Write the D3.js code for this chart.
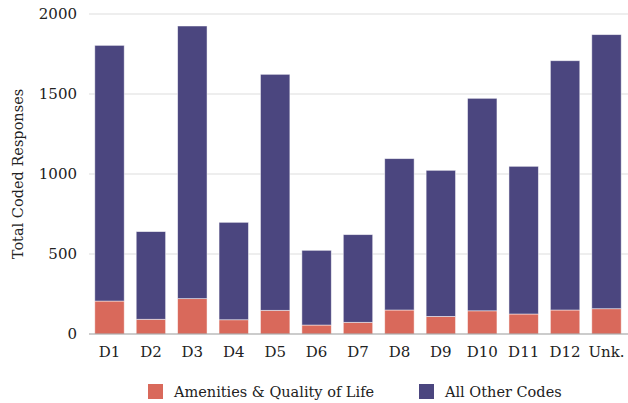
<!DOCTYPE html>
<html>
<head>
<meta charset="utf-8">
<script src="https://cdn.jsdelivr.net/npm/d3@7"></script>
<style>
  body { margin: 0; background: #fff; }
  svg text { font-family: "DejaVu Serif", "Liberation Serif", serif; fill: #222; }
</style>
</head>
<body>
<svg id="chart"></svg>
<script>
const districts = ["D1", "D2", "D3", "D4", "D5", "D6", "D7", "D8", "D9", "D10", "D11", "D12", "Unk."];
const amenities = [206, 92, 221, 89, 148, 56, 73, 150, 110, 145, 125, 150, 158];
const totals = [1804, 640, 1925, 698, 1623, 523, 621, 1096, 1023, 1473, 1048, 1708, 1871];
const otherCodes = totals.map((t, i) => t - amenities[i]);
const seriesNames = ["Amenities & Quality of Life", "All Other Codes"];
const seriesColors = ["#d9695b", "#4b467f"];
const yTicks = [0, 500, 1000, 1500, 2000];

const width = 628, height = 403;
const margin = {top: 14, right: 1, bottom: 69, left: 89};

const svg = d3.select("#chart")
    .attr("width", width)
    .attr("height", height);

const rows = districts.map((d, i) => ({district: d, a: amenities[i], o: otherCodes[i]}));
const stacked = d3.stack().keys(["a", "o"])(rows);

const x = d3.scaleBand()
    .domain(districts)
    .range([margin.left, width - margin.right])
    .paddingInner(0.29)
    .paddingOuter(0.14);

const y = d3.scaleLinear()
    .domain([0, 2000])
    .range([height - margin.bottom, margin.top]);

// gridlines
svg.append("g")
  .selectAll("line")
  .data(yTicks.slice(1))
  .enter().append("line")
    .attr("x1", margin.left)
    .attr("x2", width)
    .attr("y1", d => y(d))
    .attr("y2", d => y(d))
    .attr("stroke", "#dddddd")
    .attr("stroke-width", 1);

// y axis labels
const yAxis = d3.axisLeft(y).tickValues(yTicks).tickFormat(d3.format("d")).tickSize(0).tickPadding(12);
svg.append("g")
    .attr("transform", `translate(${margin.left},0)`)
    .call(yAxis)
    .call(g => g.select(".domain").remove())
    .selectAll("text")
      .style("font-size", "15px");

// bars
svg.append("g")
  .selectAll("g")
  .data(stacked)
  .enter().append("g")
    .attr("fill", (d, i) => seriesColors[i])
  .selectAll("rect")
  .data(d => d)
  .enter().append("rect")
    .attr("x", d => x(d.data.district))
    .attr("y", d => y(d[1]))
    .attr("width", x.bandwidth())
    .attr("height", d => y(d[0]) - y(d[1]))
    .attr("stroke", "#ffffff")
    .attr("stroke-opacity", 0.6)
    .attr("stroke-width", 0.8);

// x axis
const xAxis = d3.axisBottom(x).tickSize(0).tickPadding(12);
svg.append("g")
    .attr("transform", `translate(0,${y(0)})`)
    .call(xAxis)
    .call(g => g.select(".domain")
      .attr("d", `M${margin.left},0H${width}`)
      .attr("stroke", "#999999"))
    .selectAll("text")
      .style("font-size", "15px");

// y title
svg.append("text")
    .attr("transform", `translate(23,${(margin.top + height - margin.bottom) / 2}) rotate(-90)`)
    .attr("text-anchor", "middle")
    .style("font-size", "14.5px")
    .text("Total Coded Responses");

// legend
const legendX = [148, 419];
const legend = svg.append("g")
  .selectAll("g")
  .data(seriesNames)
  .enter().append("g")
    .attr("transform", (d, i) => `translate(${legendX[i]},384)`);

legend.append("rect")
    .attr("width", 15)
    .attr("height", 15)
    .attr("fill", (d, i) => seriesColors[i]);

legend.append("text")
    .attr("x", 26)
    .attr("y", 8)
    .attr("dy", "0.35em")
    .style("font-size", "14.5px")
    .text(d => d);
</script>
</body>
</html>
